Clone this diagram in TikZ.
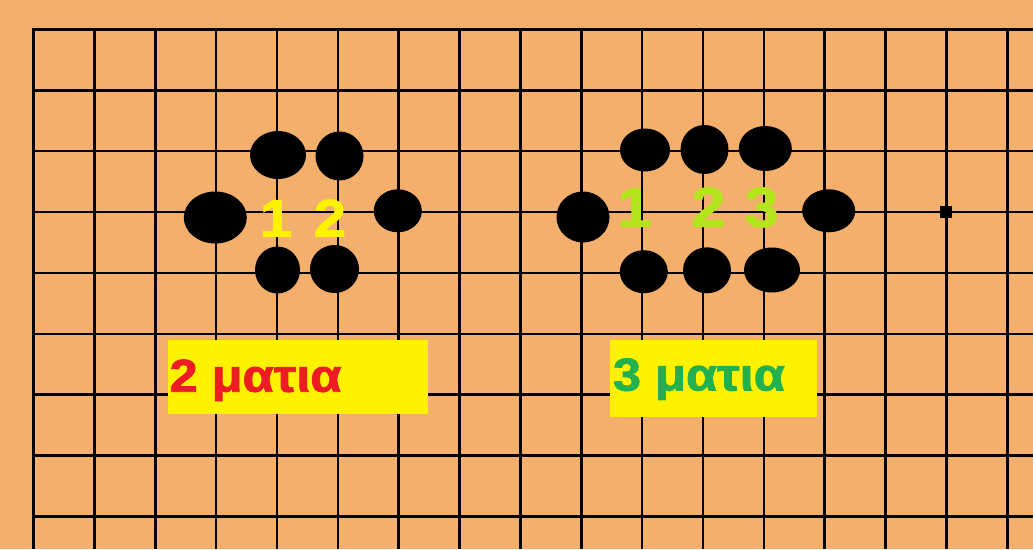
\documentclass[tikz,border=0pt]{standalone}
\usepackage{fontspec}
\setmainfont{Liberation Sans}
\newfontfamily\heavy{Liberation Sans}[UprightFont=* Bold, FakeBold=1.8, FakeStretch=1.1]
\usetikzlibrary{shapes.geometric}
\definecolor{board}{RGB}{243,175,107}
\definecolor{boxyellow}{RGB}{255,242,0}
\definecolor{eyered}{RGB}{237,28,36}
\definecolor{eyegreen}{RGB}{34,177,76}
\definecolor{lime}{RGB}{181,230,29}
\tikzset{
  gridline/.style={line width=2.6pt, black},
  stone/.style={ellipse, fill=black, inner sep=0pt, outer sep=0pt},
  digit/.style={anchor=base, inner sep=0pt, font=\fontsize{53}{53}\heavy},
  digitb/.style={anchor=base, inner sep=0pt, font=\fontsize{56}{56}\heavy, text=lime},
  labelbox/.style={fill=boxyellow, inner sep=0pt, anchor=north west},
  labeltext/.style={anchor=base west, inner sep=0pt, font=\fontsize{46}{46}\heavy}
}
\begin{document}
\begin{tikzpicture}[x=1pt,y=-1pt]
\useasboundingbox (0,0) rectangle (1033,549);
\fill[board] (0,0) rectangle (1033,549);
% grid
\foreach \i in {0,...,16} {
  \draw[gridline] ({33.5+60.86*\i},28) -- ({33.5+60.86*\i},549);
}
\foreach \j in {0,...,8} {
  \draw[gridline] (32.2,{29.3+60.9*\j}) -- (1033,{29.3+60.9*\j});
}
% left group stones
\node[stone, minimum width=56, minimum height=48] (la) at (278,155) {};
\node[stone, minimum width=48, minimum height=49] (lb) at (339.5,156) {};
\node[stone, minimum width=63, minimum height=52] (lc) at (215.3,217.5) {};
\node[stone, minimum width=48, minimum height=43] (ld) at (397.8,210.8) {};
\node[stone, minimum width=45, minimum height=47] (le) at (277.5,270) {};
\node[stone, minimum width=49, minimum height=48] (lf) at (334.5,269) {};
\node[digit, text=boxyellow] (l1) at (276,236.7) {1};
\node[digit, text=boxyellow] (l2) at (330,236.7) {2};
% right group stones
\node[stone, minimum width=50, minimum height=43] (ra) at (645,150) {};
\node[stone, minimum width=48, minimum height=49] (rb) at (704.5,149.5) {};
\node[stone, minimum width=53, minimum height=45] (rc) at (765.3,148.5) {};
\node[stone, minimum width=53, minimum height=51] (rd) at (583,217) {};
\node[stone, minimum width=53, minimum height=43] (re) at (828.7,210.8) {};
\node[stone, minimum width=48, minimum height=43] (rf) at (643.8,271.7) {};
\node[stone, minimum width=48, minimum height=46] (rg) at (707,270.3) {};
\node[stone, minimum width=56, minimum height=45] (rh) at (772,270) {};
\node[digitb] (r1) at (634.7,226.7) {1};
\node[digitb] (r2) at (708.3,226.7) {2};
\node[digitb] (r3) at (761.7,226.7) {3};
% small square
\node[fill=black, minimum size=12, inner sep=0pt] (sq) at (946.3,211.7) {};
% label boxes
\node[labelbox, minimum width=260, minimum height=74] (box1) at (167.3,340) {};
\node[labeltext, text=eyered] (t1) at (169.3,391.7) {2 ματια};
\node[labelbox, minimum width=207, minimum height=77] (box2) at (609.3,340) {};
\node[labeltext, text=eyegreen] (t2) at (612.7,390.5) {3 ματια};
\end{tikzpicture}
\end{document}
